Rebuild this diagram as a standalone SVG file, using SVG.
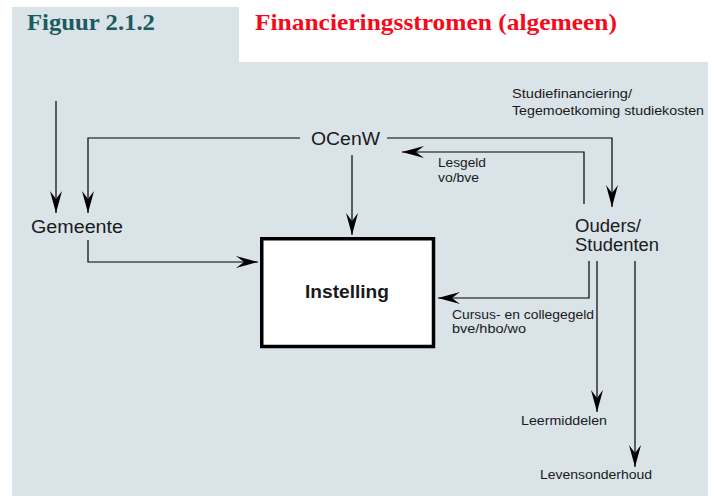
<svg xmlns="http://www.w3.org/2000/svg" width="715" height="496" viewBox="0 0 715 496">
<style>
.bg{fill:#d9e3e8}
.ln{fill:none;stroke:#000;stroke-width:1.2}
.lbl{font-family:"Liberation Sans",Arial,sans-serif;font-size:17.5px;fill:#1a1a1a}
.sm{font-family:"Liberation Sans",Arial,sans-serif;font-size:13px;fill:#1a1a1a}
.hd{font-family:"Liberation Serif","Times New Roman",serif;font-weight:bold;font-size:23px}
</style>
<defs>
<marker id="ah" viewBox="-23 -7 24 14" refX="0" refY="0" markerWidth="24" markerHeight="14" markerUnits="userSpaceOnUse" orient="auto">
<path d="M0,0 L-22,-6 L-14,0 L-22,6 Z" fill="#000"/>
</marker>
</defs>
<rect x="0" y="0" width="715" height="496" fill="#fff"/>
<rect class="bg" x="12" y="7" width="696" height="489"/>
<rect x="239" y="7" width="469" height="55" fill="#fff"/>
<text class="hd" x="27" y="30" fill="#1b5b60" textLength="128" lengthAdjust="spacingAndGlyphs">Figuur 2.1.2</text>
<text class="hd" x="255" y="30" fill="#f50a1a" textLength="362" lengthAdjust="spacingAndGlyphs">Financieringsstromen (algemeen)</text>

<g id="connectors">
<path class="ln" d="M56,101 V213" marker-end="url(#ah)"/>
<path class="ln" d="M300,138 H88 V213" marker-end="url(#ah)"/>
<path class="ln" d="M352,155 V235" marker-end="url(#ah)"/>
<path class="ln" d="M88,240 V262 H258" marker-end="url(#ah)"/>
<path class="ln" d="M387,138 H612 V207" marker-end="url(#ah)"/>
<path class="ln" d="M584,204 V152 H402" marker-end="url(#ah)"/>
<path class="ln" d="M589,261 V298 H438" marker-end="url(#ah)"/>
<path class="ln" d="M597,261 V412" marker-end="url(#ah)"/>
<path class="ln" d="M635,261 V467" marker-end="url(#ah)"/>
</g>

<g id="ocenw"><text class="lbl" x="311" y="145" textLength="69" lengthAdjust="spacingAndGlyphs">OCenW</text></g>
<g id="gemeente"><text class="lbl" x="31" y="233" textLength="92" lengthAdjust="spacingAndGlyphs">Gemeente</text></g>
<g id="instelling">
<rect x="261.75" y="238.75" width="171.75" height="107.75" fill="#fff" stroke="#000" stroke-width="3.5"/>
<text class="lbl" x="305" y="298" font-weight="bold" textLength="84" lengthAdjust="spacingAndGlyphs">Instelling</text>
</g>
<g id="ouders">
<text class="lbl" x="575" y="232" font-size="16.5" textLength="66" lengthAdjust="spacingAndGlyphs">Ouders/</text>
<text class="lbl" x="575" y="250.5" textLength="84" lengthAdjust="spacingAndGlyphs">Studenten</text>
</g>
<g id="leermiddelen"><text class="sm" x="521" y="425" textLength="86" lengthAdjust="spacingAndGlyphs">Leermiddelen</text></g>
<g id="levensonderhoud"><text class="sm" x="540" y="479" textLength="112" lengthAdjust="spacingAndGlyphs">Levensonderhoud</text></g>
<g id="labels">
<text class="sm" x="512" y="98" textLength="120" lengthAdjust="spacingAndGlyphs">Studiefinanciering/</text>
<text class="sm" x="512" y="115" textLength="192" lengthAdjust="spacingAndGlyphs">Tegemoetkoming studiekosten</text>
<text class="sm" x="438" y="167" textLength="48" lengthAdjust="spacingAndGlyphs">Lesgeld</text>
<text class="sm" x="438" y="182" textLength="41" lengthAdjust="spacingAndGlyphs">vo/bve</text>
<text class="sm" x="452" y="319" textLength="142" lengthAdjust="spacingAndGlyphs">Cursus- en collegegeld</text>
<text class="sm" x="452" y="333" textLength="74" lengthAdjust="spacingAndGlyphs">bve/hbo/wo</text>
</g>
</svg>
